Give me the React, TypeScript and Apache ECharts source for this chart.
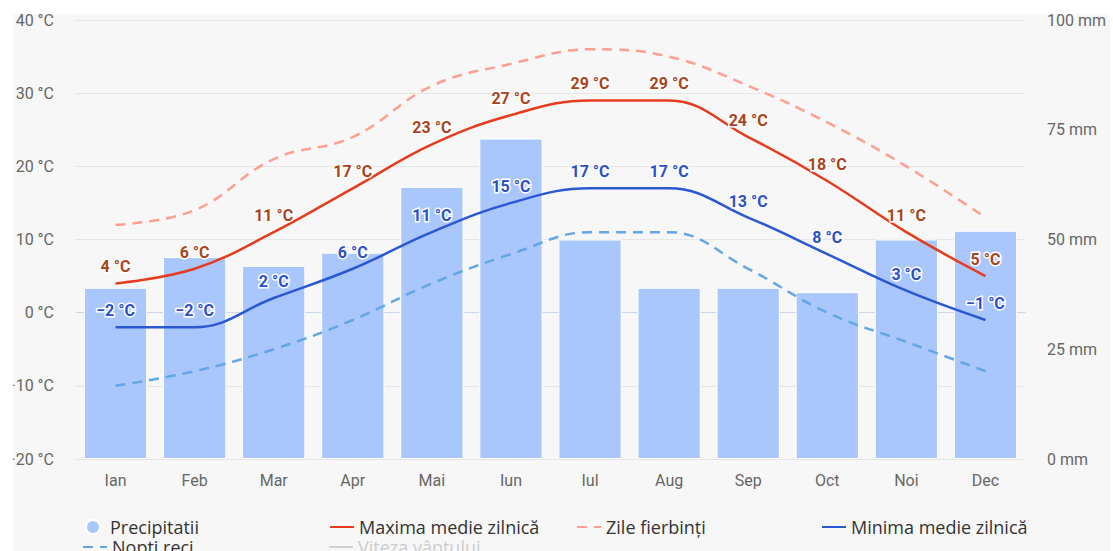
import React, { useEffect, useRef } from "react";
import * as echarts from "echarts";

const months = ["Ian", "Feb", "Mar", "Apr", "Mai", "Iun", "Iul", "Aug", "Sep", "Oct", "Noi", "Dec"];
const precipitation = [39, 46, 44, 47, 62, 73, 50, 39, 39, 38, 50, 52];
const maxTemp = [4, 6, 11, 17, 23, 27, 29, 29, 24, 18, 11, 5];
const hotDays = [12, 14, 21, 24, 31, 34, 36, 35, 31, 26, 20, 13];
const minTemp = [-2, -2, 2, 6, 11, 15, 17, 17, 13, 8, 3, -1];
const coldNights = [-10, -8, -5, -1, 4, 8, 11, 11, 6, 0, -4, -8];
const windSpeed: number[] = [];

const tempAxis = { min: -20, max: 40, interval: 10 };
const rainAxis = { min: 0, max: 100, interval: 25 };

const names = {
  rain: "Precipitatii",
  max: "Maxima medie zilnică",
  hot: "Zile fierbinți",
  min: "Minima medie zilnică",
  cold: "Nopti reci",
  wind: "Viteza vântului",
};

const FONT = "Roboto";
const LEGEND_FONT = "Open Sans";

const fmtTemp = (v: number) => `${v < 0 ? "\u2212" + Math.abs(v) : v} °C`;

export default function App() {
  const ref = useRef<HTMLDivElement>(null);
  useEffect(() => {
    if (!ref.current) return;
    const chart = echarts.init(ref.current, null, { renderer: "svg" });
    const legendBase = {
      orient: "horizontal",
      padding: 0,
      itemWidth: 24,
      itemHeight: 14,
      itemGap: 0,
      textStyle: { fontFamily: LEGEND_FONT, fontSize: 18, color: "#333" },
      inactiveColor: "#cccccc",
    };
    const mkLegend = (name: string, left: number, top: number, extra: any = {}) => ({
      ...legendBase,
      data: [name],
      left,
      top,
      ...extra,
    });
    const lineLegend = { itemStyle: { opacity: 0 } };
    const lineLabel = (color: string) => ({
      show: true,
      position: "top",
      distance: 8,
      formatter: (p: any) => fmtTemp(p.value),
      color,
      fontSize: 16,
      fontWeight: "bold",
      fontFamily: FONT,
      textBorderColor: "#ffffff",
      textBorderWidth: 3,
      opacity: 1,
    });
    chart.setOption({
      animation: false,
      backgroundColor: "transparent",
      textStyle: { fontFamily: FONT },
      grid: { left: 76, right: 85, top: 6, bottom: 92, containLabel: false, outerBoundsMode: "none" },
      legend: [
        mkLegend(names.rain, 85, 504, { icon: "circle" }),
        mkLegend(names.max, 329, 504, lineLegend),
        mkLegend(names.hot, 576, 504, lineLegend),
        mkLegend(names.min, 821, 504, lineLegend),
        mkLegend(names.cold, 82, 524, lineLegend),
        mkLegend(names.wind, 328, 524, { ...lineLegend, selected: { [names.wind]: false } }),
      ],
      xAxis: {
        type: "category",
        data: months,
        axisLine: { lineStyle: { color: "#ccd6eb" } },
        axisTick: { show: false },
        axisLabel: { color: "#666", fontSize: 16, margin: 13, fontFamily: FONT },
      },
      yAxis: [
        {
          type: "value",
          ...tempAxis,
          axisLabel: { color: "#666", fontSize: 16, margin: 22, fontFamily: FONT, formatter: fmtTemp },
          splitLine: { lineStyle: { color: "#e6e6e6" } },
          axisLine: { show: false },
          axisTick: { show: false },
        },
        {
          type: "value",
          ...rainAxis,
          position: "right",
          axisLabel: { color: "#666", fontSize: 16, margin: 22, fontFamily: FONT, formatter: "{value} mm" },
          splitLine: { show: false },
          axisLine: { show: false },
          axisTick: { show: false },
        },
      ],
      series: [
        {
          name: names.rain,
          type: "bar",
          yAxisIndex: 1,
          data: precipitation,
          barCategoryGap: "20%",
          itemStyle: { color: "#a9c7fd", borderColor: "#ffffff", borderWidth: 1 },
          z: 1,
        },
        {
          name: names.max,
          type: "line",
          data: maxTemp,
          smooth: 0.4,
          symbol: "circle",
          symbolSize: 1,
          showSymbol: true,
          lineStyle: { color: "#e63c1e", width: 2.5 },
          itemStyle: { color: "rgba(0,0,0,0)" },
          label: lineLabel("#a8441c"),
          z: 4,
        },
        {
          name: names.hot,
          type: "line",
          data: hotDays,
          smooth: 0.4,
          symbol: "none",
          lineStyle: { color: "#ff9f8f", width: 2.5, type: [10, 7] },
          itemStyle: { color: "#ff9f8f" },
          z: 3,
        },
        {
          name: names.min,
          type: "line",
          data: minTemp,
          smooth: 0.4,
          symbol: "circle",
          symbolSize: 1,
          showSymbol: true,
          lineStyle: { color: "#2a58d2", width: 2.5 },
          itemStyle: { color: "rgba(0,0,0,0)" },
          label: lineLabel("#2a50cc"),
          z: 4,
        },
        {
          name: names.cold,
          type: "line",
          data: coldNights,
          smooth: 0.4,
          symbol: "none",
          lineStyle: { color: "#62a6e6", width: 2.5, type: [10, 7] },
          itemStyle: { color: "#62a6e6" },
          z: 3,
        },
        {
          name: names.wind,
          type: "line",
          data: windSpeed,
          symbol: "none",
          lineStyle: { color: "#999999", width: 2.5 },
          itemStyle: { color: "#999999" },
        },
      ],
    });
    return () => chart.dispose();
  }, []);
  return (
    <div
      style={{
        position: "absolute",
        left: 13,
        top: 14,
        width: 1097,
        height: 537,
        overflow: "hidden",
        background: "#f7f7f7",
      }}
    >
      <div
        ref={ref}
        style={{ position: "absolute", left: -13, top: 0, width: 1110, height: 537 }}
      />
    </div>
  );
}
